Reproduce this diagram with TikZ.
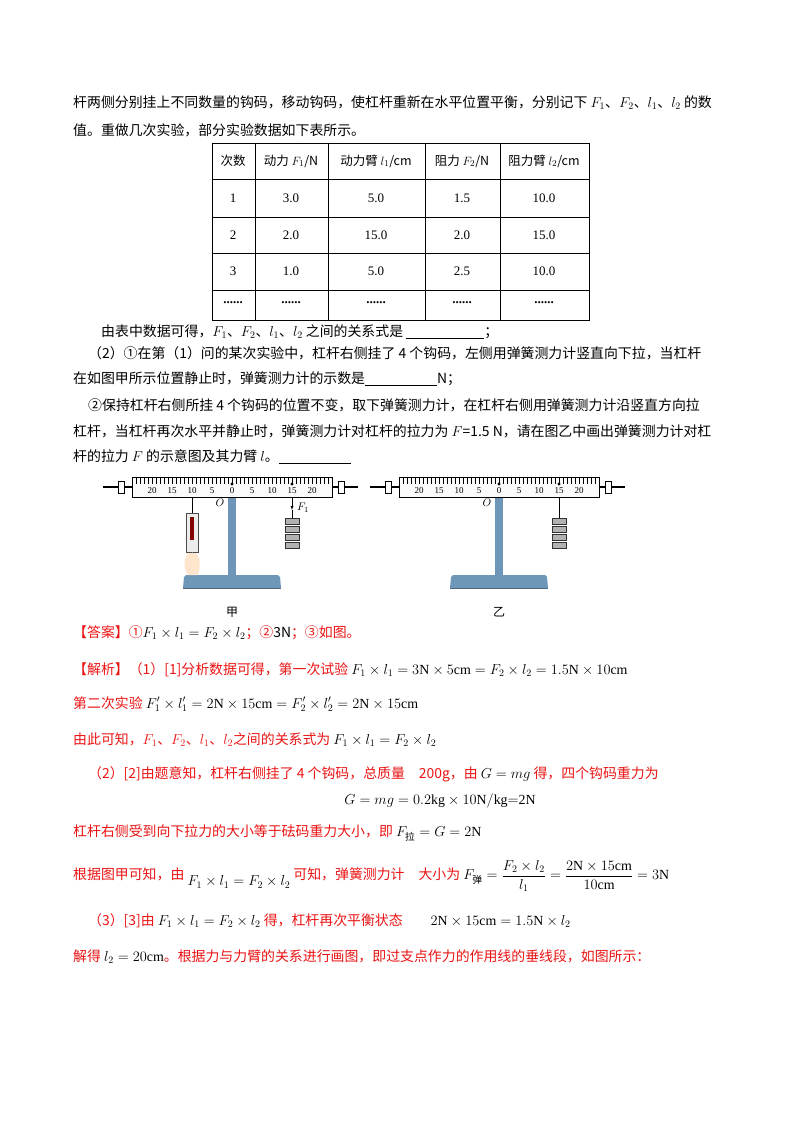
\documentclass[tikz,border=0pt]{standalone}
\usepackage{fontspec}
\setmainfont{Liberation Serif}
\newfontfamily\cjk{Noto Sans CJK SC}
\usepackage{amsmath}
\definecolor{ansred}{RGB}{235,20,20}
\definecolor{standblue}{RGB}{110,150,185}
\definecolor{rulerfill}{RGB}{250,250,250}
\begin{document}
\begin{tikzpicture}[x=1pt,y=-1pt,
  txt/.style={anchor=west,inner sep=0pt,font=\cjk\fontsize{13.9}{15}\selectfont},
  rtxt/.style={txt,text=ansred},
  cell/.style={inner sep=0pt,font=\fontsize{13}{14}\selectfont}]
\useasboundingbox (0,0) rectangle (800,1132);
\fill[white] (0,0) rectangle (800,1132);
% question text
\node[txt] (q1) at (73,103) {杆两侧分别挂上不同数量的钩码，移动钩码，使杠杆重新在水平位置平衡，分别记下 $F_1$、$F_2$、$l_1$、$l_2$ 的数};
\node[txt] (q2) at (73,130) {值。重做几次实验，部分实验数据如下表所示。};
% table
\draw (212,143) rectangle (589,320);
\foreach \y in {179,217,253,290} \draw (212,\y) -- (589,\y);
\foreach \x in {255,328,425,500} \draw (\x,143) -- (\x,320);
\node[txt,anchor=center,font=\cjk\fontsize{12.5}{14}\selectfont] (h1) at (233,161) {次数};
\node[txt,anchor=center,font=\cjk\fontsize{12.5}{14}\selectfont] (h2) at (291,161) {动力 $F_1$/N};
\node[txt,anchor=center,font=\cjk\fontsize{12.5}{14}\selectfont] (h3) at (376,161) {动力臂 $l_1$/cm};
\node[txt,anchor=center,font=\cjk\fontsize{12.5}{14}\selectfont] (h4) at (462,161) {阻力 $F_2$/N};
\node[txt,anchor=center,font=\cjk\fontsize{12.5}{14}\selectfont] (h5) at (544,161) {阻力臂 $l_2$/cm};
\foreach \r/\y/\a/\b/\c/\d in {1/198/3.0/5.0/1.5/10.0, 2/235/2.0/15.0/2.0/15.0, 3/271/1.0/5.0/2.5/10.0}{
  \node[cell] at (233,\y) {\r};
  \node[cell] at (291,\y) {\a};
  \node[cell] at (376,\y) {\b};
  \node[cell] at (462,\y) {\c};
  \node[cell] at (544,\y) {\d};}
\foreach \x in {233,291,376,462,544} \node[cell] at (\x,303) {\textbf{......}};
\node[txt] (q3) at (101,332) {由表中数据可得，$F_1$、$F_2$、$l_1$、$l_2$ 之间的关系式是 \underline{\hspace{78pt}}；};
\node[txt] (q4) at (88,353) {（2）①在第（1）问的某次实验中，杠杆右侧挂了 4 个钩码，左侧用弹簧测力计竖直向下拉，当杠杆};
\node[txt] (q5) at (73,379) {在如图甲所示位置静止时，弹簧测力计的示数是\underline{\hspace{72pt}}N；};
\node[txt] (q6) at (88,405) {②保持杠杆右侧所挂 4 个钩码的位置不变，取下弹簧测力计，在杠杆右侧用弹簧测力计沿竖直方向拉};
\node[txt] (q7) at (73,431) {杠杆，当杠杆再次水平并静止时，弹簧测力计对杠杆的拉力为 $F$=1.5 N，请在图乙中画出弹簧测力计对杠};
\node[txt] (q8) at (73,457) {杆的拉力 $F$ 的示意图及其力臂 $l$。\underline{\hspace{72pt}}};
% levers
\foreach \sx/\lab in {0/甲, 267/乙}{
\begin{scope}[xshift=\sx]
  \fill[standblue] (228,477) rectangle (236,575);
  \fill[standblue!60!black] (226,575) arc (180:0:6 and 4) -- cycle;
  \fill[standblue] (184,577) -- (186,575) -- (278,575) -- (280,577) -- (281,588) -- (183,588) -- cycle;
  \draw[standblue!70!black] (183,588) -- (281,588);
  \draw[line width=1.5pt] (103,487) -- (358,487);
  \fill[white] (118,481) rectangle (124,493); \draw (118,481) rectangle (124,493);
  \fill[white] (338,481) rectangle (344,493); \draw (338,481) rectangle (344,493);
  \filldraw[fill=rulerfill] (132,477) rectangle (332,497);
  \foreach \i in {-25,...,25} \draw (232+4*\i,477) -- (232+4*\i,{\ifodd\i 482\else 484\fi});
  \foreach \n in {5,10,15,20} {\node[cell,font=\fontsize{9}{10}\selectfont] at (232+4*\n,491) {\n};
     \node[cell,font=\fontsize{9}{10}\selectfont] at (232-4*\n,491) {\n};}
  \node[cell,font=\fontsize{9}{10}\selectfont] at (232,491) {0};
  \fill (232,484) circle (1.6);
  \node[cell,font=\itshape\fontsize{11}{12}\selectfont] at (220,503) {$O$};
  \fill (292,484) circle (1.6);
  \foreach \k in {0,1,2,3} \filldraw[fill=gray!60,draw=gray!40!black] (285,518+8*\k) rectangle (299,524+8*\k);
  \node at (232,612) {\cjk\fontsize{12}{14}\selectfont \lab};
\end{scope}}
\draw[-latex] (292,497) -- (292,510);
\draw (292,510) -- (292,518);
\node[cell,font=\fontsize{11}{12}\selectfont] at (303,508) {$F_1$};
\draw (559,497) -- (559,518);
% spring scale + hand
\draw (192,497) -- (192,513);
\filldraw[fill=gray!15,draw=gray!60!black] (186,513) rectangle (198,552);
\fill[red!50!black] (190,517) rectangle (194,540);
\draw[gray] (192,552) -- (192,556);
\fill[orange!20] (188,553) .. controls (183,560) and (184,570) .. (188,575) -- (198,575) .. controls (201,565) and (200,557) .. (196,553) -- cycle;
% answers
\node[rtxt] (a1) at (73,633) {【答案】①\textcolor{black}{$F_1\times l_1=F_2\times l_2$}；②\textcolor{black}{3N}；③如图。};
\node[rtxt] (b1) at (73,670) {【解析】（1）[1]分析数据可得，第一次试验 \textcolor{black}{$F_1\times l_1=3\mathrm{N}\times5\mathrm{cm}=F_2\times l_2=1.5\mathrm{N}\times10\mathrm{cm}$}};
\node[rtxt] (b2) at (73,704) {第二次实验 \textcolor{black}{$F_1'\times l_1'=2\mathrm{N}\times15\mathrm{cm}=F_2'\times l_2'=2\mathrm{N}\times15\mathrm{cm}$}};
\node[rtxt] (b3) at (73,740) {由此可知，$F_1$、$F_2$、$l_1$、$l_2$之间的关系式为 \textcolor{black}{$F_1\times l_1=F_2\times l_2$}};
\node[rtxt] (b4) at (88,774) {（2）[2]由题意知，杠杆右侧挂了 4 个钩码，总质量\quad 200g，由 \textcolor{black}{$G=mg$} 得，四个钩码重力为};
\node[txt,anchor=center] (b5) at (440,801) {$G=mg=0.2\mathrm{kg}\times10\mathrm{N/kg{=}2N}$};
\node[rtxt] (b6) at (73,833) {杠杆右侧受到向下拉力的大小等于砝码重力大小，即 \textcolor{black}{$F_{\text{\cjk 拉}}=G=2\mathrm{N}$}};
\node[rtxt] (b7) at (73,876) {根据图甲可知，由 \textcolor{black}{\raisebox{-6pt}{$F_1\times l_1=F_2\times l_2$}} 可知，弹簧测力计\quad 大小为 \textcolor{black}{$F_{\text{\cjk 弹}}=\dfrac{F_2\times l_2}{l_1}=\dfrac{2\mathrm{N}\times15\mathrm{cm}}{10\mathrm{cm}}=3\mathrm{N}$}};
\node[rtxt] (b8) at (88,921) {（3）[3]由 \textcolor{black}{$F_1\times l_1=F_2\times l_2$} 得，杠杆再次平衡状态\qquad\textcolor{black}{$2\mathrm{N}\times15\mathrm{cm}=1.5\mathrm{N}\times l_2$}};
\node[rtxt] (b9) at (73,957) {解得 \textcolor{black}{$l_2=20\mathrm{cm}$}。根据力与力臂的关系进行画图，即过支点作力的作用线的垂线段，如图所示：};
\end{tikzpicture}
\end{document}
